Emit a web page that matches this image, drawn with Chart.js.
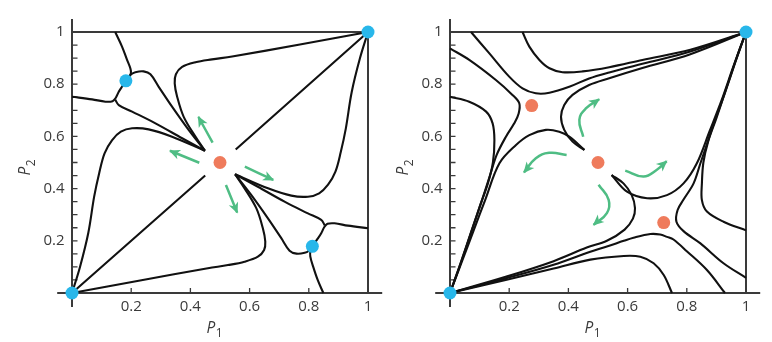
<!DOCTYPE html>
<html>
<head>
<meta charset="utf-8">
<script src="https://cdn.jsdelivr.net/npm/chart.js@4.4.1/dist/chart.umd.min.js"></script>
<style>
  html, body { margin: 0; padding: 0; background: #fff; }
  body { width: 772px; height: 342px; position: relative; overflow: hidden; }
  canvas { position: absolute; top: 0; }
  #left { left: 0; }
  #right { left: 378px; }
</style>
</head>
<body>
<canvas id="left" width="386" height="342"></canvas>
<canvas id="right" width="386" height="342"></canvas>
<script>
// axis ticks
const xTickValues = [0.2, 0.4, 0.6, 0.8, 1];
const xTickLabels = ['0.2', '0.4', '0.6', '0.8', '1'];
const yTickValues = [0.2, 0.4, 0.6, 0.8, 1];
const yTickLabels = ['0.2', '0.4', '0.6', '0.8', '1'];
const yMinorTicks = [0.05, 0.1, 0.15, 0.2, 0.25, 0.3, 0.35, 0.4, 0.45, 0.5,
                     0.55, 0.6, 0.65, 0.7, 0.75, 0.8, 0.85, 0.9, 0.95];

// ---- left panel: trajectories (P1, P2) ----
const leftTopToDot = [[0.146, 1], [0.169, 0.944], [0.186, 0.893], [0.197, 0.861], [0.199, 0.842], [0.186, 0.818]];
const leftEdgeToDot = [[0, 0.752], [0.068, 0.742], [0.113, 0.733], [0.137, 0.735], [0.148, 0.748], [0.158, 0.771], [0.17, 0.792], [0.182, 0.813]];
const leftCuspToCentre = [[0.146, 0.741], [0.158, 0.72], [0.203, 0.695], [0.282, 0.65], [0.372, 0.593], [0.449, 0.545]];
const leftHat = [[0.186, 0.818], [0.2, 0.838], [0.214, 0.846], [0.242, 0.849], [0.265, 0.838], [0.293, 0.79], [0.338, 0.714], [0.394, 0.625], [0.449, 0.545]];
const leftLoopTop = [[0.449, 0.545], [0.417, 0.599], [0.377, 0.676], [0.355, 0.753], [0.347, 0.803], [0.351, 0.838], [0.372, 0.866], [0.417, 0.884], [0.473, 0.895], [0.541, 0.906], [0.77, 0.952], [1, 1]];
const leftLoopLeft = [[0, 0], [0.027, 0.1], [0.055, 0.23], [0.075, 0.37], [0.092, 0.46], [0.11, 0.535], [0.135, 0.585], [0.165, 0.618], [0.203, 0.631], [0.259, 0.627], [0.338, 0.599], [0.449, 0.545]];
const leftDiagLow = [[0, 0], [0.45, 0.45]];
const leftDiagHigh = [[0.553, 0.55], [1, 1]];
const leftBottomToDot = [[0.849, 0], [0.83, 0.05], [0.815, 0.1], [0.805, 0.14], [0.806, 0.165], [0.812, 0.179]];
const leftRightEdgeToDot = [[1, 0.248], [0.932, 0.258], [0.887, 0.267], [0.863, 0.265], [0.852, 0.252], [0.842, 0.229], [0.83, 0.208], [0.812, 0.179]];
const leftCuspToCentre2 = [[0.854, 0.259], [0.842, 0.28], [0.797, 0.305], [0.718, 0.35], [0.628, 0.407], [0.551, 0.455]];
const leftHat2 = [[0.812, 0.179], [0.8, 0.162], [0.786, 0.154], [0.758, 0.151], [0.735, 0.162], [0.707, 0.21], [0.662, 0.286], [0.606, 0.375], [0.551, 0.455]];
const leftLoopBottom = [[0.551, 0.455], [0.583, 0.401], [0.623, 0.324], [0.645, 0.247], [0.653, 0.197], [0.649, 0.165], [0.628, 0.139], [0.583, 0.12], [0.527, 0.107], [0.459, 0.095], [0.23, 0.048], [0, 0]];
const leftLoopRight = [[1, 1], [0.973, 0.9], [0.945, 0.77], [0.925, 0.63], [0.908, 0.54], [0.89, 0.465], [0.865, 0.415], [0.835, 0.382], [0.797, 0.369], [0.741, 0.373], [0.662, 0.401], [0.551, 0.455]];

const leftStable = [[0, 0], [0.182, 0.813], [0.812, 0.179], [1, 1]];
const leftUnstable = [[0.5, 0.5]];

const leftArrowUp = [[0.475, 0.576], [0.427, 0.675]];
const leftArrowLeft = [[0.43, 0.499], [0.331, 0.545]];
const leftArrowRight = [[0.584, 0.484], [0.68, 0.433]];
const leftArrowDown = [[0.52, 0.414], [0.558, 0.308]];

// ---- right panel ----
const rightTopOuter = [[0.245, 1], [0.268, 0.944], [0.302, 0.893], [0.336, 0.861], [0.38, 0.846], [0.448, 0.849], [0.538, 0.865], [0.65, 0.893], [0.812, 0.932], [1, 1]];
const rightTopInner = [[0.071, 1], [0.133, 0.918], [0.2, 0.829], [0.245, 0.784], [0.29, 0.765], [0.336, 0.767], [0.403, 0.79], [0.47, 0.822], [0.538, 0.845], [0.65, 0.878], [0.812, 0.925], [1, 1]];
const rightSaddleUp = [[0.454, 0.548], [0.414, 0.58], [0.386, 0.625], [0.375, 0.675], [0.386, 0.72], [0.414, 0.759], [0.47, 0.797], [0.538, 0.823], [0.65, 0.862], [0.812, 0.915], [1, 1]];
const rightLeftUpper = [[0, 0.937], [0.065, 0.893], [0.155, 0.816], [0.211, 0.759], [0.234, 0.727], [0.232, 0.688], [0.217, 0.65], [0.189, 0.599], [0.158, 0.53], [0.135, 0.45], [0.108, 0.355], [0.072, 0.235], [0.035, 0.112], [0, 0]];
const rightLeftLower = [[0, 0.752], [0.065, 0.733], [0.122, 0.695], [0.144, 0.65], [0.15, 0.586], [0.145, 0.5], [0.128, 0.42], [0.1, 0.33], [0.066, 0.215], [0.032, 0.1], [0, 0]];
const rightSaddleLeft = [[0, 0], [0.04, 0.12], [0.08, 0.24], [0.12, 0.36], [0.167, 0.497], [0.223, 0.567], [0.268, 0.605], [0.324, 0.625], [0.369, 0.618], [0.403, 0.599], [0.454, 0.548]];
const rightBottomOuter = [[0.75, 0], [0.722, 0.069], [0.688, 0.114], [0.643, 0.139], [0.587, 0.142], [0.474, 0.128], [0.35, 0.094], [0.188, 0.05], [0, 0]];
const rightBottomInner = [[0.929, 0], [0.868, 0.088], [0.8, 0.16], [0.755, 0.205], [0.733, 0.215], [0.71, 0.224], [0.677, 0.226], [0.62, 0.212], [0.587, 0.2], [0.53, 0.178], [0.474, 0.158], [0.35, 0.108], [0.188, 0.056], [0, 0]];
const rightSaddleDown = [[0.546, 0.452], [0.586, 0.42], [0.614, 0.375], [0.625, 0.325], [0.618, 0.285], [0.59, 0.243], [0.53, 0.2], [0.462, 0.174], [0.35, 0.122], [0.188, 0.062], [0, 0]];
const rightRightLower = [[1, 0.058], [0.924, 0.114], [0.846, 0.19], [0.789, 0.237], [0.765, 0.273], [0.769, 0.318], [0.789, 0.358], [0.823, 0.42], [0.846, 0.497], [0.865, 0.56], [0.89, 0.645], [0.928, 0.765], [0.965, 0.888], [1, 1]];
const rightRightUpper = [[1, 0.24], [0.924, 0.273], [0.868, 0.312], [0.851, 0.356], [0.851, 0.42], [0.856, 0.5], [0.872, 0.58], [0.9, 0.67], [0.934, 0.785], [0.968, 0.9], [1, 1]];
const rightSaddleRight = [[0.546, 0.452], [0.598, 0.388], [0.666, 0.363], [0.733, 0.375], [0.789, 0.42], [0.834, 0.497], [0.877, 0.62], [0.918, 0.74], [0.958, 0.87], [1, 1]];

const rightStable = [[0, 0], [1, 1]];
const rightUnstable = [[0.276, 0.718], [0.5, 0.5], [0.722, 0.27]];

const rightArrowUp = [[0.45, 0.599], [0.437, 0.663], [0.459, 0.707], [0.504, 0.742]];
const rightArrowLeft = [[0.394, 0.529], [0.335, 0.537], [0.29, 0.516], [0.25, 0.462]];
const rightArrowRight = [[0.592, 0.469], [0.654, 0.446], [0.699, 0.472], [0.732, 0.505]];
const rightArrowDown = [[0.502, 0.415], [0.536, 0.357], [0.53, 0.306], [0.485, 0.261]];

const BLUE = '#28b7ea';
const ORANGE = '#ef7b5c';
const GREEN = '#4fbd84';
const AXIS = '#3a3a3a';
const FONT = "'Open Sans', 'DejaVu Sans', sans-serif";

const toXY = pts => pts.map(([x, y]) => ({ x, y }));

// axes crossing at the origin, inward ticks, and the top/right edges
const framePlugin = {
    id: 'frame',
    beforeDatasetsDraw(chart) {
        const { ctx } = chart;
        const px = v => chart.scales.x.getPixelForValue(v);
        const py = v => chart.scales.y.getPixelForValue(v);
        ctx.save();
        ctx.strokeStyle = AXIS;
        ctx.lineWidth = 2;
        ctx.beginPath();
        ctx.moveTo(px(-0.05), py(0)); ctx.lineTo(px(1.048), py(0));
        ctx.moveTo(px(0), py(-0.054)); ctx.lineTo(px(0), py(1.05));
        ctx.moveTo(px(0), py(1)); ctx.lineTo(px(1), py(1));
        ctx.moveTo(px(1), py(0)); ctx.lineTo(px(1), py(1));
        ctx.stroke();
        ctx.lineWidth = 1.3;
        ctx.beginPath();
        yMinorTicks.forEach(v => {
            ctx.moveTo(px(0), py(v)); ctx.lineTo(px(0) + 5.5, py(v));
        });
        xTickValues.forEach(v => {
            ctx.moveTo(px(v), py(0)); ctx.lineTo(px(v), py(0) - 5);
        });
        ctx.stroke();
        ctx.restore();
    },
    afterDatasetsDraw(chart) {
        // arrow heads at the end of the green paths
        const { ctx } = chart;
        chart.data.datasets.forEach((ds, i) => {
            if (!ds.arrowHead) return;
            const pts = chart.getDatasetMeta(i).data;
            const end = pts[pts.length - 1];
            const prev = pts[pts.length - 2];
            const ang = Math.atan2(end.y - prev.y, end.x - prev.x);
            ctx.save();
            ctx.translate(end.x, end.y);
            ctx.rotate(ang);
            ctx.fillStyle = GREEN;
            ctx.beginPath();
            ctx.moveTo(1, 0);
            ctx.lineTo(-10, -5);
            ctx.lineTo(-7, 0);
            ctx.lineTo(-10, 5);
            ctx.closePath();
            ctx.fill();
            ctx.restore();
        });
    },
    afterDraw(chart) {
        // axis titles P1 and P2 (italic P, upright subscript)
        const { ctx } = chart;
        const px = v => chart.scales.x.getPixelForValue(v);
        const py = v => chart.scales.y.getPixelForValue(v);
        ctx.save();
        ctx.fillStyle = '#3a3a3a';
        ctx.textBaseline = 'alphabetic';
        ctx.textAlign = 'left';
        const drawLabel = (sub) => {
            ctx.font = 'italic 15.5px ' + FONT;
            ctx.fillText('P', 0, 0);
            const w = ctx.measureText('P').width;
            ctx.font = '12px ' + FONT;
            ctx.fillText(sub, w + 0.5, 4.5);
        };
        ctx.save();
        ctx.translate(px(0.5) - 13.5, py(0) + 39.5);
        drawLabel('1');
        ctx.restore();
        ctx.save();
        ctx.translate(px(0) - 42, py(0.5) + 13);
        ctx.rotate(-Math.PI / 2);
        drawLabel('2');
        ctx.restore();
        ctx.restore();
    }
};

function makeChart(id, curves, arrows, stable, unstable) {
    const datasets = [
        { type: 'scatter', data: toXY(stable), backgroundColor: BLUE, pointRadius: 6.5, pointBorderWidth: 0, borderWidth: 0, clip: false, order: 0 },
        { type: 'scatter', data: toXY(unstable), backgroundColor: ORANGE, pointRadius: 6.5, pointBorderWidth: 0, borderWidth: 0, clip: false, order: 0 },
    ];
    curves.forEach(c => datasets.push({
        type: 'line', data: toXY(c), borderColor: '#111', borderWidth: 2.1,
        pointRadius: 0, tension: 0.35, fill: false, clip: false, order: 2,
    }));
    arrows.forEach(a => datasets.push({
        type: 'line', data: toXY(a), borderColor: GREEN, borderWidth: 2.5,
        pointRadius: 0, tension: 0.45, fill: false, clip: false, order: 1, arrowHead: true,
    }));

    return new Chart(document.getElementById(id), {
        type: 'scatter',
        data: { datasets },
        options: {
            responsive: false,
            animation: false,
            devicePixelRatio: 1,
            events: [],
            layout: { padding: { left: 0, right: 12.08, top: 26.78, bottom: 0 } },
            plugins: { legend: { display: false }, tooltip: { enabled: false } },
            scales: {
                x: {
                    type: 'linear', min: -0.02, max: 1.02,
                    grid: { display: false, drawTicks: false },
                    border: { display: false },
                    afterBuildTicks: s => { s.ticks = xTickValues.map(v => ({ value: v })); },
                    afterFit: s => { s.height = 43.78; },
                    ticks: {
                        callback: (v, i) => xTickLabels[i],
                        font: { family: FONT, size: 15 },
                        color: '#3a3a3a', padding: 0, maxRotation: 0, autoSkip: false,
                    },
                },
                y: {
                    type: 'linear', min: -0.02, max: 1.02,
                    grid: { display: false, drawTicks: false },
                    border: { display: false },
                    afterBuildTicks: s => { s.ticks = yTickValues.map(v => ({ value: v })); },
                    afterFit: s => { s.width = 66.08; },
                    ticks: {
                        callback: (v, i) => yTickLabels[i],
                        font: { family: FONT, size: 15 },
                        color: '#3a3a3a', padding: 1.5, autoSkip: false,
                    },
                },
            },
        },
        plugins: [framePlugin],
    });
}

makeChart('left',
    [leftTopToDot, leftEdgeToDot, leftCuspToCentre, leftHat, leftLoopTop, leftLoopLeft, leftDiagLow, leftDiagHigh,
     leftBottomToDot, leftRightEdgeToDot, leftCuspToCentre2, leftHat2, leftLoopBottom, leftLoopRight],
    [leftArrowUp, leftArrowLeft, leftArrowRight, leftArrowDown],
    leftStable, leftUnstable);

makeChart('right',
    [rightTopOuter, rightTopInner, rightSaddleUp, rightLeftUpper, rightLeftLower, rightSaddleLeft,
     rightBottomOuter, rightBottomInner, rightSaddleDown, rightRightLower, rightRightUpper, rightSaddleRight],
    [rightArrowUp, rightArrowLeft, rightArrowRight, rightArrowDown],
    rightStable, rightUnstable);
</script>
</body>
</html>
